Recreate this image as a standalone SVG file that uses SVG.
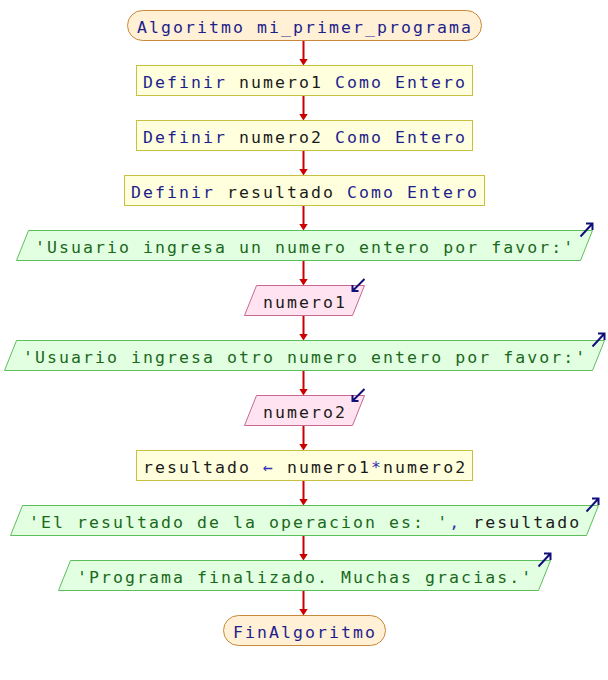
<svg xmlns="http://www.w3.org/2000/svg" width="608" height="680" viewBox="0 0 608 680">
<style>
text{font-family:"DejaVu Sans Mono","Liberation Mono",monospace;font-size:16.5px;letter-spacing:2.07px;white-space:pre}
.term{fill:#fff0d6;stroke:#c8883a;stroke-width:1}
.proc{fill:#ffffdd;stroke:#c8c040;stroke-width:1}
.out{fill:#e2ffe2;stroke:#5cbf5c;stroke-width:1}
.inp{fill:#ffe3f0;stroke:#c86890;stroke-width:1}
.kw{fill:#1e1e8c}
.id{fill:#1a1a1a}
.str{fill:#1a681a}
.op{fill:#3030b0}
.icon{fill:none;stroke:#10107a;stroke-width:2;stroke-linecap:butt}
.conn{stroke:#cc0000;stroke-width:2;fill:none}
</style>
<defs>
<marker id="ah" markerUnits="userSpaceOnUse" markerWidth="8" markerHeight="10" refX="2" refY="4.5" orient="auto" viewBox="0 0 8 10">
<path d="M0,0 L7,4.5 L0,9 z" fill="#cc0000"/>
</marker>
<path id="outIcon" class="icon" d="M-12,6 L0,-7 M-6.5,-7 L0,-7 L0,-0.5"/>
<path id="inIcon" class="icon" d="M0,-6.5 L-12,5.5 M-12,-0.5 L-12,5.5 L-6,5.5"/>
</defs>

<g id="connectors">
<line class="conn" x1="303.5" y1="40.5" x2="303.5" y2="60.5" marker-end="url(#ah)"/>
<line class="conn" x1="303.5" y1="95.5" x2="303.5" y2="115.5" marker-end="url(#ah)"/>
<line class="conn" x1="303.5" y1="150.5" x2="303.5" y2="170.5" marker-end="url(#ah)"/>
<line class="conn" x1="303.5" y1="205.5" x2="303.5" y2="225.5" marker-end="url(#ah)"/>
<line class="conn" x1="303.5" y1="260.5" x2="303.5" y2="280.5" marker-end="url(#ah)"/>
<line class="conn" x1="303.5" y1="315.5" x2="303.5" y2="335.5" marker-end="url(#ah)"/>
<line class="conn" x1="303.5" y1="370.5" x2="303.5" y2="390.5" marker-end="url(#ah)"/>
<line class="conn" x1="303.5" y1="425.5" x2="303.5" y2="445.5" marker-end="url(#ah)"/>
<line class="conn" x1="303.5" y1="480.5" x2="303.5" y2="500.5" marker-end="url(#ah)"/>
<line class="conn" x1="303.5" y1="535.5" x2="303.5" y2="555.5" marker-end="url(#ah)"/>
<line class="conn" x1="303.5" y1="590.5" x2="303.5" y2="610.5" marker-end="url(#ah)"/>
</g>

<g id="start">
<rect class="term" x="127.5" y="10.5" width="354" height="30" rx="15" ry="15"/>
<text x="137" y="32.5" class="kw">Algoritmo mi_primer_programa</text>
</g>

<g id="def1">
<rect class="proc" x="136.5" y="65.5" width="336" height="30"/>
<text x="143" y="87.5"><tspan class="kw">Definir </tspan><tspan class="id">numero1</tspan><tspan class="kw"> Como Entero</tspan></text>
</g>

<g id="def2">
<rect class="proc" x="136.5" y="120.5" width="336" height="30"/>
<text x="143" y="142.5"><tspan class="kw">Definir </tspan><tspan class="id">numero2</tspan><tspan class="kw"> Como Entero</tspan></text>
</g>

<g id="def3">
<rect class="proc" x="124.5" y="175.5" width="360" height="30"/>
<text x="131" y="197.5"><tspan class="kw">Definir </tspan><tspan class="id">resultado</tspan><tspan class="kw"> Como Entero</tspan></text>
</g>

<g id="out1">
<polygon class="out" points="28.5,230.5 592.5,230.5 580.5,260.5 16.5,260.5"/>
<text x="35" y="252.5" class="str">'Usuario ingresa un numero entero por favor:'</text>
<use href="#outIcon" x="592.5" y="230.5"/>
</g>

<g id="in1">
<polygon class="inp" points="256.5,285.5 364.5,285.5 352.5,315.5 244.5,315.5"/>
<text x="263" y="307.5" class="id">numero1</text>
<use href="#inIcon" x="364.5" y="285.5"/>
</g>

<g id="out2">
<polygon class="out" points="16.5,340.5 604.5,340.5 592.5,370.5 4.5,370.5"/>
<text x="23" y="362.5" class="str">'Usuario ingresa otro numero entero por favor:'</text>
<use href="#outIcon" x="604.5" y="340.5"/>
</g>

<g id="in2">
<polygon class="inp" points="256.5,395.5 364.5,395.5 352.5,425.5 244.5,425.5"/>
<text x="263" y="417.5" class="id">numero2</text>
<use href="#inIcon" x="364.5" y="395.5"/>
</g>

<g id="assign">
<rect class="proc" x="136.5" y="450.5" width="336" height="30"/>
<text x="143" y="472.5"><tspan class="id">resultado </tspan><tspan class="op">←</tspan><tspan class="id"> numero1</tspan><tspan class="op">*</tspan><tspan class="id">numero2</tspan></text>
</g>

<g id="out3">
<polygon class="out" points="22.5,505.5 598.5,505.5 586.5,535.5 10.5,535.5"/>
<text x="29" y="527.5"><tspan class="str">'El resultado de la operacion es: '</tspan><tspan class="op">,</tspan><tspan class="id"> resultado</tspan></text>
<use href="#outIcon" x="598.5" y="505.5"/>
</g>

<g id="out4">
<polygon class="out" points="70.5,560.5 550.5,560.5 538.5,590.5 58.5,590.5"/>
<text x="77" y="582.5" class="str">'Programa finalizado. Muchas gracias.'</text>
<use href="#outIcon" x="550.5" y="560.5"/>
</g>

<g id="end">
<rect class="term" x="223.5" y="615.5" width="162" height="30" rx="15" ry="15"/>
<text x="233" y="637.5" class="kw">FinAlgoritmo</text>
</g>
</svg>
